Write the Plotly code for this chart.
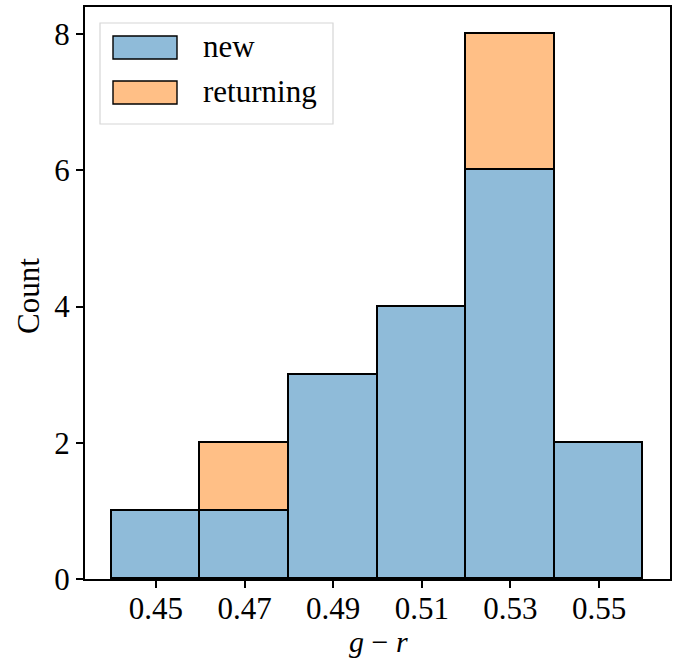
import plotly.graph_objects as go

bin_edges = [0.44, 0.46, 0.48, 0.50, 0.52, 0.54, 0.56]
new_counts = [1, 1, 3, 4, 6, 2]
returning_counts = [0, 1, 0, 0, 2, 0]
series_names = ["new", "returning"]
series_colors = ["rgba(31,119,180,0.5)", "rgba(255,127,14,0.5)"]
x_ticks = [0.45, 0.47, 0.49, 0.51, 0.53, 0.55]
y_ticks = [0, 2, 4, 6, 8]

W, H = 683, 658
L, R, T, B = 85, 670, 7, 579
FONT = "Liberation Serif"

centers = [(a + b) / 2 for a, b in zip(bin_edges[:-1], bin_edges[1:])]
widths = [b - a for a, b in zip(bin_edges[:-1], bin_edges[1:])]

fig = go.Figure()
for name, vals, col in zip(series_names, [new_counts, returning_counts], series_colors):
    fig.add_trace(go.Bar(
        x=centers, y=vals, width=widths, name=name,
        marker=dict(color=col, line=dict(color="black", width=1.6)),
        showlegend=False,
    ))

def px(x):
    return (x - L) / (R - L)

def py(y):
    return 1 - (y - T) / (B - T)

shapes = []
annotations = []
# legend frame
shapes.append(dict(type="rect", xref="paper", yref="paper",
                   x0=px(100), x1=px(333), y0=py(124), y1=py(23),
                   line=dict(color="#d6d6d6", width=1.2), fillcolor="rgba(255,255,255,0.8)",
                   layer="above"))
for i, (name, col) in enumerate(zip(series_names, series_colors)):
    top = 36 + i * 45
    shapes.append(dict(type="rect", xref="paper", yref="paper",
                       x0=px(113), x1=px(177), y0=py(top + 23), y1=py(top),
                       line=dict(color="black", width=1.4), fillcolor=col, layer="above"))
    annotations.append(dict(xref="paper", yref="paper", x=px(201), y=py(top + 11),
                            text=name, showarrow=False, xanchor="left", yanchor="middle",
                            font=dict(family=FONT, size=31, color="black")))

# axis titles
annotations.append(dict(xref="paper", yref="paper", x=px(378), y=py(641),
                        text="<i>g</i> − <i>r</i>", showarrow=False,
                        xanchor="center", yanchor="middle",
                        font=dict(family=FONT, size=30, color="black")))
annotations.append(dict(xref="paper", yref="paper", x=px(28), y=py(296),
                        text="Count", showarrow=False, textangle=-90,
                        xanchor="center", yanchor="middle",
                        font=dict(family=FONT, size=31, color="black")))

axis_common = dict(ticks="outside", ticklen=7, tickwidth=1.8, tickcolor="black",
                   showline=True, linecolor="black", linewidth=2, mirror=True,
                   showgrid=False, zeroline=False, automargin=False,
                   tickfont=dict(family=FONT, size=31, color="black"))

fig.update_layout(
    width=W, height=H,
    margin=dict(l=L, r=W - R, t=T, b=H - B, autoexpand=False),
    barmode="stack", bargap=0,
    plot_bgcolor="white", paper_bgcolor="white",
    font=dict(family=FONT, size=31, color="black"),
    shapes=shapes, annotations=annotations,
    xaxis=dict(range=[0.434, 0.566], tickvals=x_ticks, ticktext=[f"{v:.2f}" for v in x_ticks],
               ticklabelstandoff=-6, **axis_common),
    yaxis=dict(range=[0, 8.4], tickvals=y_ticks, ticklabelstandoff=0, **axis_common),
)

fig.write_html("out.html", config={"displayModeBar": False},
               post_script="document.body.style.margin='0';document.body.style.overflow='hidden';")
